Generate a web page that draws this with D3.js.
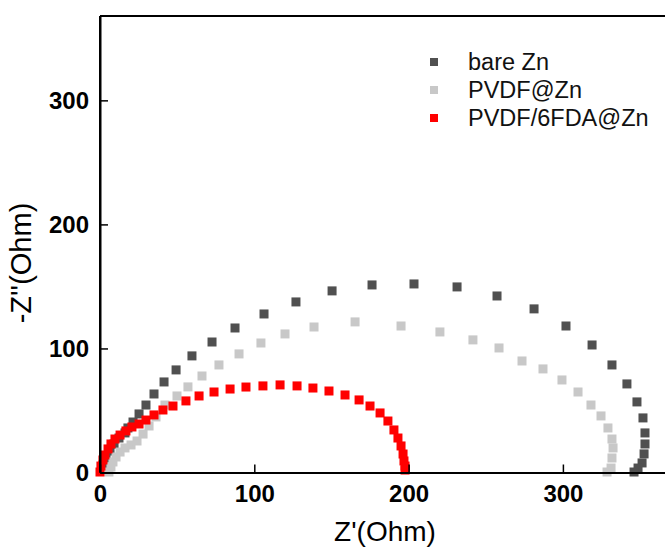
<!DOCTYPE html>
<html>
<head>
<meta charset="utf-8">
<script src="https://cdn.jsdelivr.net/npm/d3@7"></script>
<style>
  html, body { margin: 0; padding: 0; background: #fff; }
  svg { display: block; }
  text { font-family: "Liberation Sans", Arial, sans-serif; }
</style>
</head>
<body>
<svg id="chart" width="665" height="549"></svg>
<script>
// Nyquist plot data: Z' (Ohm) and -Z'' (Ohm)
const bareZnRe = [1.9, 3.9, 6.5, 9.1, 12.3, 16.2, 18.1, 21.4, 25.3, 29.8, 35.0, 41.5, 49.3, 59.6, 72.6, 87.5, 106.3, 127.0, 150.4, 176.3, 203.5, 231.4, 257.3, 281.3, 302.0, 318.9, 331.8, 341.5, 348.0, 351.9, 353.2, 353.2, 352.6, 351.3, 348.7, 346.1];
const bareZnIm = [6.0, 11.7, 17.3, 23.0, 27.8, 31.9, 35.9, 40.7, 47.2, 54.4, 63.3, 73.0, 82.7, 94.0, 105.2, 116.5, 127.8, 137.5, 146.4, 151.2, 152.0, 149.6, 142.3, 131.9, 118.1, 102.8, 86.7, 71.4, 56.9, 44.0, 31.9, 23.0, 15.0, 7.7, 3.6, 0.4];

const pvdfRe = [5.8, 7.1, 8.4, 10.4, 13.0, 16.2, 20.1, 24.0, 27.9, 31.8, 36.3, 42.1, 49.9, 57.0, 66.1, 77.1, 90.1, 104.3, 119.9, 138.7, 165.3, 195.1, 220.3, 241.7, 258.6, 273.5, 287.1, 299.4, 309.8, 318.2, 324.7, 329.2, 331.8, 332.5, 331.8, 331.2, 328.6];
const pvdfIm = [0.4, 4.4, 8.5, 12.5, 16.5, 19.8, 22.2, 25.4, 31.0, 37.5, 44.8, 54.4, 61.7, 69.0, 77.8, 86.7, 95.6, 104.4, 111.7, 117.3, 121.4, 118.1, 113.3, 106.9, 100.4, 89.9, 83.5, 74.6, 64.9, 54.4, 45.6, 35.9, 27.0, 19.8, 11.7, 3.6, 0.4];

const fdaRe = [0.0, 0.6, 1.9, 3.2, 5.2, 7.1, 9.7, 13.0, 16.8, 20.7, 25.3, 29.8, 35.0, 40.8, 47.3, 55.7, 64.2, 73.9, 84.3, 94.6, 105.6, 116.7, 127.7, 138.0, 148.4, 158.8, 167.9, 175.0, 181.5, 186.6, 190.5, 193.1, 195.1, 196.4, 197.0, 197.7, 197.7];
const fdaIm = [0.4, 5.2, 10.1, 14.1, 19.0, 23.0, 27.0, 30.2, 33.5, 36.7, 39.1, 42.3, 46.4, 50.4, 53.6, 57.7, 61.7, 64.9, 67.3, 68.9, 69.8, 70.6, 69.8, 68.1, 65.7, 62.5, 58.5, 53.6, 48.0, 41.5, 34.3, 27.8, 21.4, 14.9, 9.3, 5.2, 2.0];

const seriesNames = ["bare Zn", "PVDF@Zn", "PVDF/6FDA@Zn"];
const xTicks = [0, 100, 200, 300];
const yTicks = [0, 100, 200, 300];

const seriesList = [
  { name: seriesNames[0], re: bareZnRe, im: bareZnIm, color: "#505050" },
  { name: seriesNames[1], re: pvdfRe, im: pvdfIm, color: "#c8c8c8" },
  { name: seriesNames[2], re: fdaRe, im: fdaIm, color: "#ff0000" }
];

const svg = d3.select("#chart");
const plotLeft = 100, plotTop = 16, plotBottom = 472.5;

const x = d3.scaleLinear().domain([0, 370]).range([plotLeft, plotLeft + 370 * 1.543]);
const y = d3.scaleLinear().domain([0, 368]).range([plotBottom, plotTop]);

// markers
const msize = 9;
seriesList.forEach(s => {
  svg.append("g")
    .selectAll("rect")
    .data(d3.range(s.re.length))
    .join("rect")
    .attr("x", i => x(s.re[i]) - msize / 2)
    .attr("y", i => y(s.im[i]) - msize / 2)
    .attr("width", msize)
    .attr("height", msize)
    .attr("fill", s.color);
});

// frame
const fr = svg.append("g").attr("fill", "none").attr("stroke", "#000").attr("stroke-width", 2);
fr.append("line").attr("x1", x(0)).attr("x2", x(370)).attr("y1", y(368)).attr("y2", y(368));
fr.append("line").attr("x1", x(0)).attr("x2", x(0)).attr("y1", y(368)).attr("y2", y(0));

// axes with inward ticks
const xAxis = svg.append("g")
  .attr("transform", `translate(0,${plotBottom})`)
  .call(d3.axisBottom(x).tickValues(xTicks).tickSizeInner(-8).tickSizeOuter(0).tickPadding(12));
const yAxis = svg.append("g")
  .attr("transform", `translate(${plotLeft},0)`)
  .call(d3.axisLeft(y).tickValues(yTicks).tickSizeInner(-8).tickSizeOuter(0).tickPadding(11));

[xAxis, yAxis].forEach(a => {
  a.select(".domain").attr("stroke", "#000").attr("stroke-width", 2);
  a.selectAll(".tick line").attr("stroke", "#000").attr("stroke-width", 1.5);
  a.selectAll(".tick text")
    .attr("fill", "#000")
    .attr("font-size", 24)
    .attr("font-weight", "bold")
    .attr("font-family", "'Liberation Sans', Arial, sans-serif");
});

// axis titles
svg.append("text")
  .attr("x", 385).attr("y", 541)
  .attr("text-anchor", "middle")
  .attr("font-size", 28)
  .text("Z'(Ohm)");
svg.append("text")
  .attr("transform", "translate(31,263) rotate(-90)")
  .attr("text-anchor", "middle")
  .attr("font-size", 29)
  .text("-Z''(Ohm)");

// legend
const lg = svg.append("g");
seriesList.forEach((s, i) => {
  const cy = 62 + i * 28;
  lg.append("rect").attr("x", 430).attr("y", cy - 4).attr("width", 8).attr("height", 8).attr("fill", s.color);
  lg.append("text").attr("x", 468).attr("y", cy + 8).attr("font-size", 23.5).attr("fill", "#111").text(s.name);
});
</script>
</body>
</html>
